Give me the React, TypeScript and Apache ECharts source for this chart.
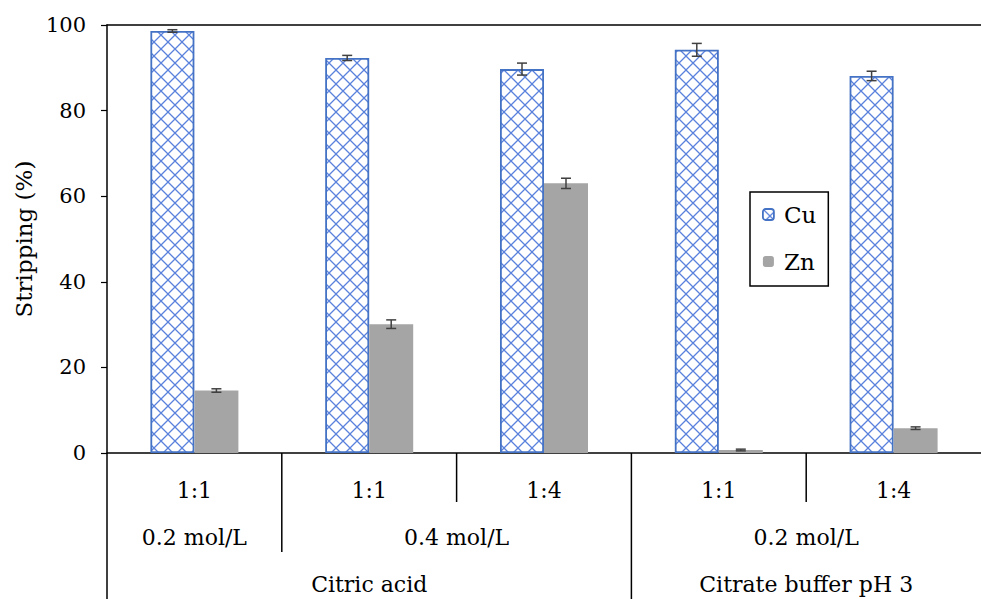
import React, { useEffect, useRef } from "react";
import * as echarts from "echarts";

const ratios = ["1:1", "1:1", "1:4", "1:1", "1:4"];
const concLabels = ["0.2 mol/L", "0.4 mol/L", "0.2 mol/L"];
const concSpans = [1, 2, 2];
const reagentLabels = ["Citric acid", "Citrate buffer pH 3"];
const reagentSpans = [3, 2];

const cuValues = [98.6, 92.3, 89.7, 94.2, 88.1];
const cuErrors = [0.3, 0.6, 1.4, 1.5, 1.1];
const znValues = [14.6, 30.1, 63.0, 0.7, 5.8];
const znErrors = [0.4, 1.0, 1.2, 0.2, 0.3];

const yTicks = [0, 20, 40, 60, 80, 100];

const FONT = "DejaVu Serif";
const BAR_W = 44;

function makeHatch() {
  const s = 14;
  const c = document.createElement("canvas");
  c.width = s;
  c.height = s;
  const ctx = c.getContext("2d")!;
  ctx.fillStyle = "#ffffff";
  ctx.fillRect(0, 0, s, s);
  ctx.strokeStyle = "#5a82dc";
  ctx.lineWidth = 1.3;
  ctx.beginPath();
  ctx.moveTo(0, 0);
  ctx.lineTo(s, s);
  ctx.moveTo(s, 0);
  ctx.lineTo(0, s);
  ctx.stroke();
  return c;
}

export default function App() {
  const ref = useRef<HTMLDivElement>(null);
  useEffect(() => {
    if (!ref.current) return;
    const chart = echarts.init(ref.current, undefined, { renderer: "svg" });
    const hatch = { image: makeHatch(), repeat: "repeat" } as any;
    const cuStyle = { color: hatch, borderColor: "#4472c4", borderWidth: 1.8 };
    const znStyle = { color: "#a5a5a5" };

    const errSeries = (values: number[], errors: number[], offset: number) => ({
      type: "custom",
      silent: true,
      z: 10,
      data: values.map((v, i) => [i, v, errors[i]]),
      renderItem: (params: any, api: any) => {
        const i = api.value(0);
        const v = api.value(1);
        const e = api.value(2);
        const top = api.coord([i, v + e]);
        const bot = api.coord([i, v - e]);
        const x = top[0] + offset;
        const cap = 5;
        const st = { stroke: "#404040", lineWidth: 1.5 };
        return {
          type: "group",
          children: [
            { type: "line", shape: { x1: x, y1: top[1], x2: x, y2: bot[1] }, style: st },
            { type: "line", shape: { x1: x - cap, y1: top[1], x2: x + cap, y2: top[1] }, style: st },
            { type: "line", shape: { x1: x - cap, y1: bot[1], x2: x + cap, y2: bot[1] }, style: st },
          ],
        };
      },
    });

    chart.setOption({
      animation: false,
      backgroundColor: "#ffffff",
      textStyle: { fontFamily: FONT },
      grid: {
        left: 107,
        top: 25,
        width: 878,
        bottom: 146,
        show: false,
      },
      legend: {
        orient: "vertical",
        left: 750,
        top: 192,
        width: 76,
        padding: [11, 12, 13, 12],
        itemWidth: 11,
        itemHeight: 11,
        itemGap: 24,
        borderColor: "#000",
        borderWidth: 1.5,
        backgroundColor: "#fff",
        textStyle: { fontFamily: FONT, fontSize: 23, color: "#000", padding: [0, 0, 0, 5] },
        data: [
          { name: "Cu", itemStyle: cuStyle },
          { name: "Zn", itemStyle: znStyle },
        ],
      },
      xAxis: [
        {
          type: "category",
          data: ratios,
          axisLine: { lineStyle: { color: "#000", width: 1.5 } },
          axisTick: { show: false },
          axisLabel: { fontFamily: FONT, fontSize: 22, color: "#000", margin: 26 },
        },
        {
          type: "category",
          position: "top",
          data: ratios,
          axisLine: { show: true, lineStyle: { color: "#000", width: 1.5 } },
          axisTick: { show: false },
          axisLabel: { show: false },
        },
      ],
      yAxis: {
        type: "value",
        min: 0,
        max: yTicks[yTicks.length - 1],
        interval: 20,
        name: "Stripping (%)",
        nameLocation: "middle",
        nameGap: 68,
        nameTextStyle: { fontFamily: FONT, fontSize: 23, color: "#000" },
        axisLine: { show: true, lineStyle: { color: "#000", width: 1.5 } },
        axisTick: { show: true, inside: false, length: 6, lineStyle: { color: "#000", width: 1.2 } },
        splitLine: { show: false },
        axisLabel: { fontFamily: FONT, fontSize: 21, color: "#000", margin: 21 },
      },
      series: [
        {
          name: "Cu",
          type: "bar",
          barWidth: BAR_W,
          barGap: "0%",
          itemStyle: cuStyle,
          data: cuValues,
        },
        {
          name: "Zn",
          type: "bar",
          barWidth: BAR_W,
          barGap: "0%",
          itemStyle: znStyle,
          data: znValues,
        },
        errSeries(cuValues, cuErrors, -BAR_W / 2),
        errSeries(znValues, znErrors, BAR_W / 2),
      ],
    });

    const px = (i: number) => chart.convertToPixel({ xAxisIndex: 0 }, i) as number;
    const c0 = px(0);
    const w = px(1) - c0;
    const edge = (k: number) => c0 - w / 2 + k * w;
    const yAxis0 = chart.convertToPixel({ yAxisIndex: 0 }, 0) as number;
    const bottom = 599;
    const row2Y = 537;
    const row3Y = 584;
    const lineSt = { stroke: "#000", lineWidth: 1.5 };
    const graphics: any[] = [];

    graphics.push({ type: "line", shape: { x1: edge(0), y1: yAxis0, x2: edge(0), y2: bottom }, style: lineSt });

    const concEnds: number[] = [];
    let acc = 0;
    concSpans.forEach((s) => { acc += s; concEnds.push(acc); });
    const reagEnds: number[] = [];
    acc = 0;
    reagentSpans.forEach((s) => { acc += s; reagEnds.push(acc); });
    for (let k = 1; k < ratios.length; k++) {
      let y2 = 502;
      if (reagEnds.includes(k)) y2 = bottom;
      else if (concEnds.includes(k)) y2 = 552;
      graphics.push({ type: "line", shape: { x1: edge(k), y1: yAxis0, x2: edge(k), y2 }, style: lineSt });
    }

    const textStyle = (text: string) => ({
      text,
      fontFamily: FONT,
      fontSize: 22,
      fill: "#000",
      align: "center",
      verticalAlign: "middle",
    });

    let start = 0;
    concLabels.forEach((lab, j) => {
      const end = start + concSpans[j];
      graphics.push({ type: "text", x: (edge(start) + edge(end)) / 2, y: row2Y, style: textStyle(lab) });
      start = end;
    });
    start = 0;
    reagentLabels.forEach((lab, j) => {
      const end = start + reagentSpans[j];
      graphics.push({ type: "text", x: (edge(start) + edge(end)) / 2, y: row3Y, style: textStyle(lab) });
      start = end;
    });

    chart.setOption({ graphic: graphics });

    return () => chart.dispose();
  }, []);
  return (
    <div
      ref={ref}
      style={{ position: "fixed", left: 0, top: 0, width: 981, height: 599, background: "#fff" }}
    />
  );
}
